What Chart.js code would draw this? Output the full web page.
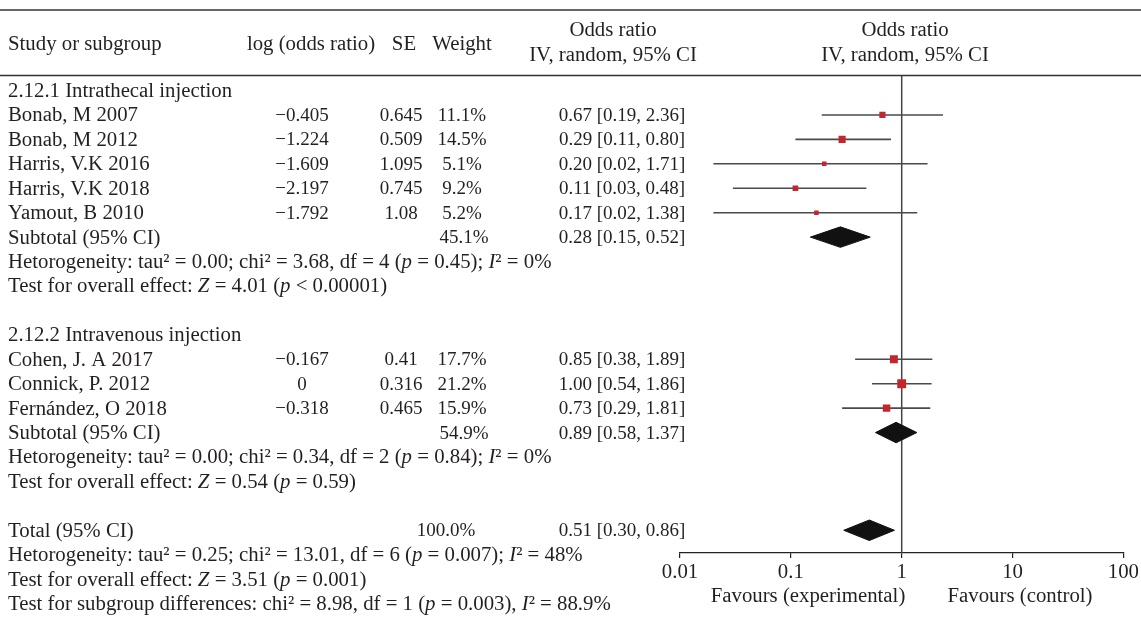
<!DOCTYPE html>
<html><head><meta charset="utf-8">
<script src="https://cdn.jsdelivr.net/npm/chart.js@4"></script>
<style>html,body{margin:0;padding:0;background:#fff}#wrap{width:1141px;height:626px}</style>
</head><body><div id="wrap"><canvas id="c" width="1141" height="626"></canvas></div>
<script>
// ---- data ----
const studies = ['Bonab, M 2007','Bonab, M 2012','Harris, V.K 2016','Harris, V.K 2018','Yamout, B 2010','Cohen, J. A 2017','Connick, P. 2012','Fernández, O 2018'];
const studyRows = [1,2,3,4,5,11,12,13];
const logOR = [-0.405,-1.224,-1.609,-2.197,-1.792,-0.167,0,-0.318];
const se = [0.645,0.509,1.095,0.745,1.08,0.41,0.316,0.465];
const weights = [11.1,14.5,5.1,9.2,5.2,17.7,21.2,15.9];
const orEst = [0.67,0.29,0.20,0.11,0.17,0.85,1.00,0.73];
const orLow = [0.19,0.11,0.02,0.03,0.02,0.38,0.54,0.29];
const orHigh = [2.36,0.80,1.71,0.48,1.38,1.89,1.86,1.81];

const summaryLabels = ['Subtotal (95% CI)','Subtotal (95% CI)','Total (95% CI)'];
const summaryRows = [6,14,18];
const summaryWeights = [45.1,54.9,100.0];
const summaryEst = [0.28,0.89,0.51];
const summaryLow = [0.15,0.58,0.30];
const summaryHigh = [0.52,1.37,0.86];

const groupLabels = ['2.12.1 Intrathecal injection','2.12.2 Intravenous injection'];
const groupRows = [0,10];
const noteLines = [
  'Hetorogeneity: tau² = 0.00; chi² = 3.68, df = 4 (*p* = 0.45); *I*² = 0%',
  'Test for overall effect: *Z* = 4.01 (*p* < 0.00001)',
  'Hetorogeneity: tau² = 0.00; chi² = 0.34, df = 2 (*p* = 0.84); *I*² = 0%',
  'Test for overall effect: *Z* = 0.54 (*p* = 0.59)',
  'Hetorogeneity: tau² = 0.25; chi² = 13.01, df = 6 (*p* = 0.007); *I*² = 48%',
  'Test for overall effect: *Z* = 3.51 (*p* = 0.001)',
  'Test for subgroup differences: chi² = 8.98, df = 1 (*p* = 0.003), *I*² = 88.9%'
];
const noteRows = [7,8,15,16,19,20,21];

const xTicks = [0.01,0.1,1,10,100];
const xTickLabels = ['0.01','0.1','1','10','100'];
const favourLabels = ['Favours (experimental)','Favours (control)'];
const headers = ['Study or subgroup','log (odds ratio)','SE','Weight'];

// ---- styling ----
const FONT = '"Liberation Serif", "Times New Roman", serif';
const FS = 20.8;
const NS = 19;
const TXT = '#231f20';
const Y_MIN = -0.615, Y_MAX = 18.93;
const fmtNum = v => (v < 0 ? '−' : '') + String(Math.abs(v));
const fmtCI = (e,l,h) => `${e.toFixed(2)} [${l.toFixed(2)}, ${h.toFixed(2)}]`;

function drawRich(ctx, text, x, y, align, size) {
  const fs = size || FS;
  const parts = text.split('*');
  const fonts = parts.map((p,i) => (i % 2 ? 'italic ' : '') + fs + 'px ' + FONT);
  const widths = parts.map((p,i) => { ctx.font = fonts[i]; return ctx.measureText(p).width; });
  const total = widths.reduce((a,b) => a + b, 0);
  let sx = align === 'center' ? x - total/2 : align === 'right' ? x - total : x;
  ctx.textAlign = 'left'; ctx.textBaseline = 'middle'; ctx.fillStyle = TXT;
  parts.forEach((p,i) => { ctx.font = fonts[i]; ctx.fillText(p, sx, y); sx += widths[i]; });
}

const tablePlugin = {
  id: 'table',
  afterDraw(chart) {
    const ctx = chart.ctx, y = chart.scales.y;
    const ry = r => y.getPixelForValue(r) + 1;
    ctx.save();
    ctx.strokeStyle = '#333'; ctx.lineWidth = 1.5;
    ctx.beginPath(); ctx.moveTo(0, 10); ctx.lineTo(1141, 10); ctx.stroke();
    ctx.beginPath(); ctx.moveTo(0, 75.5); ctx.lineTo(1141, 75.5); ctx.stroke();
    drawRich(ctx, headers[0], 8, 45, 'left');
    drawRich(ctx, headers[1], 311, 45, 'center');
    drawRich(ctx, headers[2], 404, 45, 'center');
    drawRich(ctx, headers[3], 462, 45, 'center');
    drawRich(ctx, 'Odds ratio', 613, 31, 'center');
    drawRich(ctx, 'IV, random, 95% CI', 613, 56, 'center');
    drawRich(ctx, 'Odds ratio', 905, 31, 'center');
    drawRich(ctx, 'IV, random, 95% CI', 905, 56, 'center');
    groupLabels.forEach((g,i) => drawRich(ctx, g, 8, ry(groupRows[i]), 'left'));
    studies.forEach((s,i) => {
      const yy = ry(studyRows[i]);
      drawRich(ctx, s, 8, yy, 'left');
      drawRich(ctx, fmtNum(logOR[i]), 302, yy, 'center', NS);
      drawRich(ctx, fmtNum(se[i]), 401, yy, 'center', NS);
      drawRich(ctx, weights[i].toFixed(1) + '%', 462, yy, 'center', NS);
      drawRich(ctx, fmtCI(orEst[i], orLow[i], orHigh[i]), 622, yy, 'center', NS);
    });
    summaryLabels.forEach((s,i) => {
      const yy = ry(summaryRows[i]);
      drawRich(ctx, s, 8, yy, 'left');
      drawRich(ctx, summaryWeights[i].toFixed(1) + '%', i === 2 ? 446 : 464, yy, 'center', NS);
      drawRich(ctx, fmtCI(summaryEst[i], summaryLow[i], summaryHigh[i]), 622, yy, 'center', NS);
    });
    noteLines.forEach((t,i) => drawRich(ctx, t, 8, ry(noteRows[i]), 'left'));
    drawRich(ctx, favourLabels[0], 808, 597, 'center');
    drawRich(ctx, favourLabels[1], 1020, 597, 'center');
    ctx.restore();
  }
};

const datasets = [];
datasets.push({ type:'line', data:[{x:1,y:Y_MIN},{x:1,y:Y_MAX}], borderColor:'#444', borderWidth:1.5, pointRadius:0, order:5 });
studies.forEach((s,i) => datasets.push({
  type:'line', data:[{x:orLow[i], y:studyRows[i]},{x:orHigh[i], y:studyRows[i]}],
  borderColor:'#4a4a4a', borderWidth:1.6, pointRadius:0, order:4
}));
datasets.push({
  type:'scatter', data: studies.map((s,i) => ({x:orEst[i], y:studyRows[i]})),
  pointStyle:'rect', backgroundColor:'#c1272d', borderWidth:0,
  pointRadius: ctx => (3.2 + 0.27 * weights[ctx.dataIndex]) / 1.414, order:1
});
summaryRows.forEach((r,i) => datasets.push({
  type:'line',
  data:[{x:summaryLow[i],y:r},{x:summaryEst[i],y:r-0.42},{x:summaryHigh[i],y:r},{x:summaryEst[i],y:r+0.42},{x:summaryLow[i],y:r}],
  borderColor:'#111', backgroundColor:'#111', borderWidth:1, fill:'shape', pointRadius:0, tension:0, order:2
}));

Chart.defaults.font.family = FONT;
new Chart(document.getElementById('c'), {
  data: { datasets },
  options: {
    responsive:false, animation:false,
    layout:{ padding:{ left:680, right:17, top:75.5, bottom:33 } },
    plugins:{ legend:{display:false}, tooltip:{enabled:false} },
    scales:{
      x:{ type:'logarithmic', min:0.01, max:100,
          afterBuildTicks: s => { s.ticks = xTicks.map(v => ({value:v})); },
          afterFit: s => { s.height = 40; },
          ticks:{ callback:(v,i) => xTickLabels[i], color:TXT, font:{size:FS, family:FONT}, padding:2, maxRotation:0, autoSkip:false },
          grid:{ drawOnChartArea:false, drawTicks:true, tickLength:5, color:'#222', lineWidth:1.2 },
          border:{ display:true, color:'#222', width:1.2 }
      },
      y:{ type:'linear', display:false, reverse:true, min:Y_MIN, max:Y_MAX }
    }
  },
  plugins:[tablePlugin]
});
</script></body></html>
